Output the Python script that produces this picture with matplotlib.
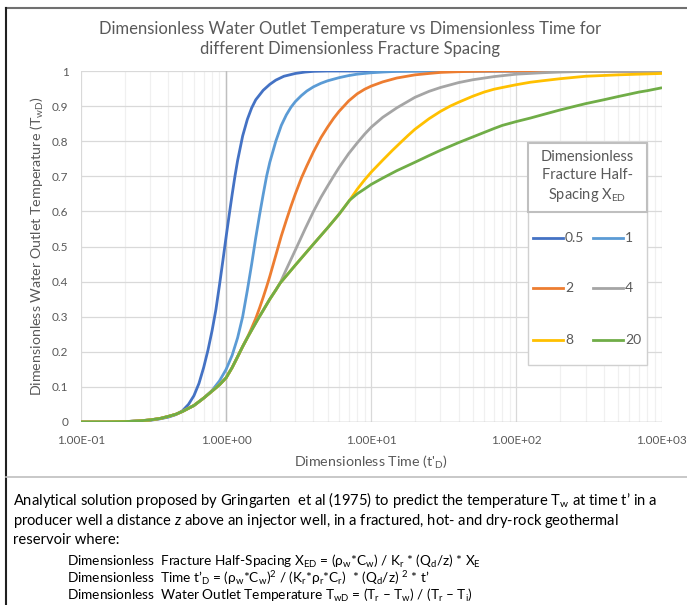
import matplotlib
matplotlib.use("Agg")
import matplotlib.pyplot as plt
from matplotlib.lines import Line2D
from matplotlib.patches import Rectangle
from matplotlib.ticker import FixedLocator, FuncFormatter, NullFormatter

plt.rcParams['font.family'] = ['Lato', 'DejaVu Sans']
plt.rcParams['mathtext.fontset'] = 'custom'
plt.rcParams['mathtext.rm'] = 'Lato'
plt.rcParams['mathtext.it'] = 'Lato:italic'

# ---------------- data ----------------
t_05 = [0.1, 0.2, 0.3, 0.35, 0.4, 0.45, 0.5, 0.55, 0.6, 0.65, 0.7, 0.75, 0.8, 0.85,
        0.9, 0.95, 1.0, 1.05, 1.1, 1.15, 1.2, 1.3, 1.4, 1.5, 1.6, 1.8, 2.0, 2.2, 2.5,
        3.0, 3.5, 4, 5, 10, 100, 1000]
T_05 = [0, 0.001, 0.005, 0.009, 0.014, 0.021, 0.032, 0.05, 0.075, 0.11, 0.155, 0.205,
        0.26, 0.32, 0.39, 0.46, 0.528, 0.59, 0.648, 0.70, 0.745, 0.815, 0.862, 0.895,
        0.918, 0.945, 0.962, 0.974, 0.985, 0.993, 0.997, 0.999, 1, 1, 1, 1]

t_1 = [0.1, 0.15, 0.2, 0.25, 0.3, 0.35, 0.4, 0.45, 0.5, 0.6, 0.7, 0.8, 0.9, 1.0, 1.1,
       1.2, 1.3, 1.4, 1.5, 1.6, 1.7, 1.8, 1.9, 2.0, 2.2, 2.4, 2.6, 2.8, 3.0, 3.3, 3.6,
       4.0, 4.5, 5, 6, 7, 8, 10, 12, 15, 20, 100, 1000]
T_1 = [0, 0, 0.001, 0.003, 0.006, 0.01, 0.016, 0.022, 0.03, 0.047, 0.068, 0.09, 0.117,
       0.15, 0.19, 0.24, 0.30, 0.375, 0.45, 0.525, 0.59, 0.648, 0.70, 0.74, 0.80, 0.845,
       0.875, 0.897, 0.913, 0.93, 0.943, 0.955, 0.965, 0.972, 0.981, 0.987, 0.991,
       0.995, 0.997, 0.999, 1, 1, 1]

t_2 = [0.1, 0.15, 0.2, 0.25, 0.3, 0.35, 0.4, 0.45, 0.5, 0.6, 0.7, 0.8, 0.9, 1.0, 1.1,
       1.2, 1.3, 1.4, 1.5, 1.6, 1.7, 1.8, 1.9, 2.0, 2.2, 2.4, 2.6, 2.8, 3.0, 3.3, 3.6,
       4.0, 4.5, 5, 5.5, 6, 7, 8, 9, 10, 12, 15, 20, 25, 30, 40, 50, 70, 1000]
T_2 = [0, 0, 0.001, 0.003, 0.006, 0.01, 0.016, 0.022, 0.03, 0.047, 0.068, 0.088, 0.106,
       0.126, 0.155, 0.186, 0.215, 0.24, 0.268, 0.295, 0.325, 0.355, 0.385, 0.415,
       0.475, 0.53, 0.575, 0.615, 0.65, 0.695, 0.73, 0.77, 0.81, 0.84, 0.865, 0.885,
       0.915, 0.935, 0.948, 0.957, 0.969, 0.98, 0.989, 0.993, 0.996, 0.998, 0.999, 1, 1]

t_4 = [0.1, 0.15, 0.2, 0.25, 0.3, 0.35, 0.4, 0.45, 0.5, 0.6, 0.7, 0.8, 0.9, 1.0, 1.1,
       1.2, 1.3, 1.4, 1.5, 1.65, 1.8, 2.0, 2.2, 2.35, 2.6, 3.0, 3.5, 4.0, 4.5, 5, 5.5,
       6, 7, 8, 9, 10, 12, 15, 20, 25, 30, 40, 50, 70, 100, 150, 200, 300, 500, 1000]
T_4 = [0, 0, 0.001, 0.003, 0.006, 0.01, 0.016, 0.022, 0.03, 0.047, 0.068, 0.088, 0.106,
       0.126, 0.155, 0.186, 0.215, 0.24, 0.262, 0.292, 0.318, 0.35, 0.376, 0.395, 0.435,
       0.49, 0.55, 0.60, 0.64, 0.672, 0.70, 0.725, 0.765, 0.795, 0.82, 0.84, 0.868,
       0.895, 0.925, 0.942, 0.953, 0.967, 0.975, 0.984, 0.991, 0.995, 0.997, 0.999, 1, 1]

t_8 = [0.1, 0.15, 0.2, 0.25, 0.3, 0.35, 0.4, 0.45, 0.5, 0.6, 0.7, 0.8, 0.9, 1.0, 1.1,
       1.2, 1.3, 1.4, 1.5, 1.65, 1.8, 2.0, 2.2, 2.35, 3.0, 4.0, 5.0, 6.0, 7.1, 8, 9, 10,
       12, 14, 16, 18, 20, 25, 30, 35, 40, 50, 60, 70, 80, 100, 125, 150, 200, 300, 500,
       700, 1000]
T_8 = [0, 0, 0.001, 0.003, 0.006, 0.01, 0.016, 0.022, 0.03, 0.047, 0.068, 0.088, 0.106,
       0.126, 0.155, 0.186, 0.215, 0.24, 0.262, 0.292, 0.318, 0.35, 0.376, 0.395, 0.447,
       0.507, 0.553, 0.592, 0.632, 0.663, 0.69, 0.712, 0.746, 0.774, 0.797, 0.817,
       0.834, 0.864, 0.885, 0.900, 0.911, 0.928, 0.940, 0.948, 0.953, 0.961, 0.968,
       0.972, 0.978, 0.985, 0.989, 0.991, 0.993]

t_20 = [0.1, 0.15, 0.2, 0.25, 0.3, 0.35, 0.4, 0.45, 0.5, 0.6, 0.7, 0.8, 0.9, 1.0, 1.1,
        1.2, 1.3, 1.4, 1.5, 1.65, 1.8, 2.0, 2.2, 2.35, 3.0, 4.0, 5.0, 6.0, 7.1, 8, 9, 10,
        12, 15, 20, 25, 30, 40, 50, 60, 70, 80, 100, 125, 150, 200, 250, 300, 400, 500,
        600, 700, 800, 1000]
T_20 = [0, 0, 0.001, 0.003, 0.006, 0.01, 0.016, 0.022, 0.03, 0.047, 0.068, 0.088, 0.106,
        0.126, 0.155, 0.186, 0.215, 0.24, 0.262, 0.292, 0.318, 0.35, 0.376, 0.395, 0.447,
        0.507, 0.553, 0.592, 0.632, 0.65, 0.664, 0.677, 0.695, 0.716, 0.74, 0.759, 0.774,
        0.796, 0.812, 0.825, 0.836, 0.845, 0.856, 0.866, 0.875, 0.889, 0.899, 0.907,
        0.918, 0.927, 0.934, 0.94, 0.944, 0.952]

series_labels = ['0.5', '1', '2', '4', '8', '20']
series_t = [t_05, t_1, t_2, t_4, t_8, t_20]
series_values = [T_05, T_1, T_2, T_4, T_8, T_20]
series_colors = ['#4472C4', '#5B9BD5', '#ED7D31', '#A5A5A5', '#FFC000', '#70AD47']

x_ticks = [0.1, 1, 10, 100, 1000]
y_ticks = [0, 0.1, 0.2, 0.3, 0.4, 0.5, 0.6, 0.7, 0.8, 0.9, 1.0]

# ---------------- figure ----------------
W, H = 687, 605
fig = plt.figure(figsize=(W / 100, H / 100), dpi=100)

def fx(px):
    return px / W

def fy(py):
    return 1 - py / H

ax = fig.add_axes([fx(81), fy(422), fx(661.5) - fx(81), fy(71) - fy(422)])
ax.set_xscale('log')
ax.set_xlim(0.1, 1000)
ax.set_ylim(0, 1)

for sp in ax.spines.values():
    sp.set_visible(False)

ax.xaxis.set_major_locator(FixedLocator(x_ticks))
ax.xaxis.set_minor_locator(FixedLocator([m * d for d in [0.1, 1, 10, 100] for m in range(2, 10)]))
ax.xaxis.set_minor_formatter(NullFormatter())
ax.xaxis.set_major_formatter(FuncFormatter(lambda v, p: f"{v:.2E}"))
ax.yaxis.set_major_locator(FixedLocator(y_ticks))
ax.yaxis.set_major_formatter(FuncFormatter(lambda v, p: f"{v:g}"))
ax.tick_params(axis='both', which='both', length=0, colors='#595959', labelsize=8.5)
ax.tick_params(axis='x', pad=9)
ax.tick_params(axis='y', pad=9)

ax.grid(True, which='major', axis='both', color='#D9D9D9', lw=0.9)
ax.grid(True, which='minor', axis='x', color='#F0F0F0', lw=0.9)
ax.set_axisbelow(True)
ax.axvline(1, color='#BFBFBF', lw=1.0, zorder=1.5)
ax.axhline(0, color='#BFBFBF', lw=1.0, zorder=1.5)

for lab, tv, vals, col in zip(series_labels, series_t, series_values, series_colors):
    ax.plot(tv, vals, color=col, lw=2.0, label=lab, solid_capstyle='round',
            solid_joinstyle='round', zorder=3)

ax.set_xlabel("Dimensionless Time (t'$_\\mathregular{D}$)", color='#595959', fontsize=10.3, labelpad=6)
ax.set_ylabel("Dimensionless Water Outlet Temperature (T$_\\mathregular{wD}$)",
              color='#595959', fontsize=10.3, labelpad=4)

fig.text(fx(350), fy(39), "Dimensionless Water Outlet Temperature vs Dimensionless Time for\n"
         "different Dimensionless Fracture Spacing", ha='center', va='center',
         color='#595959', fontsize=12, linespacing=1.35)

# ---------------- legend (manual, in pixel layout) ----------------
fig.add_artist(Rectangle((fx(527.5), fy(365)), fx(647) - fx(527.5), fy(143.5) - fy(365),
                         transform=fig.transFigure, facecolor='white', edgecolor='#D0D0D0',
                         lw=1.0, zorder=5))
fig.add_artist(Rectangle((fx(527.5), fy(212)), fx(647) - fx(527.5), fy(143.5) - fy(212),
                         transform=fig.transFigure, facecolor='white', edgecolor='#BFBFBF',
                         lw=1.5, zorder=6))
fig.text(fx(587), fy(177), "Dimensionless\nFracture Half-\nSpacing X$_\\mathregular{ED}$",
         ha='center', va='center', color='#595959', fontsize=10.5, linespacing=1.3, zorder=7)

rows_y = [237.7, 288.3, 340]
cols_x = [533, 593]
for i, (lab, col) in enumerate(zip(series_labels, series_colors)):
    r, c = divmod(i, 2)
    x0 = cols_x[c]
    y0 = rows_y[r]
    fig.add_artist(Line2D([fx(x0), fx(x0 + 30)], [fy(y0), fy(y0)], transform=fig.transFigure,
                          color=col, lw=2.0, zorder=7))
    fig.text(fx(x0 + 32), fy(y0), lab, ha='left', va='center', color='#595959',
             fontsize=10, zorder=7)

# ---------------- frame lines ----------------
fig.add_artist(Line2D([fx(6), fx(687)], [fy(8), fy(8)], transform=fig.transFigure,
                      color='#707070', lw=1.5))
fig.add_artist(Line2D([fx(6), fx(6)], [fy(8), fy(605)], transform=fig.transFigure,
                      color='#202020', lw=1.5))
fig.add_artist(Line2D([fx(6), fx(687)], [fy(477), fy(477)], transform=fig.transFigure,
                      color='#BFBFBF', lw=1.2))

# ---------------- description text ----------------
r = "\\mathregular"
lines_top = [
    "Analytical solution proposed by Gringarten  et al (1975) to predict the temperature T$_{%s{w}}$ at time t’ in a" % r,
    "producer well a distance $z$ above an injector well, in a fractured, hot- and dry-rock geothermal",
    "reservoir where:",
]
for i, s in enumerate(lines_top):
    fig.text(fx(13), fy(500.5 + 20 * i), s, ha='left', va='center', color='black', fontsize=10.6)

lines_eq = [
    "Dimensionless  Fracture Half-Spacing X$_{%s{ED}}$ = (ρ$_{%s{w}}$*C$_{%s{w}}$) / K$_{%s{r}}$ * (Q$_{%s{d}}$/z) * X$_{%s{E}}$" % (r, r, r, r, r, r),
    "Dimensionless  Time t’$_{%s{D}}$ = (ρ$_{%s{w}}$*C$_{%s{w}}$)$^{%s{2}}$ / (K$_{%s{r}}$*ρ$_{%s{r}}$*C$_{%s{r}}$)  * (Q$_{%s{d}}$/z) $^{%s{2}}$ * t’" % (r, r, r, r, r, r, r, r, r),
    "Dimensionless  Water Outlet Temperature T$_{%s{wD}}$ = (T$_{%s{r}}$ – T$_{%s{w}}$) / (T$_{%s{r}}$ – T$_{%s{i}}$)" % (r, r, r, r, r),
]
for i, s in enumerate(lines_eq):
    fig.text(fx(67), fy(561 + 17 * i), s, ha='left', va='center', color='black', fontsize=9.8)

fig.savefig("out.png", dpi=100, facecolor='white')
